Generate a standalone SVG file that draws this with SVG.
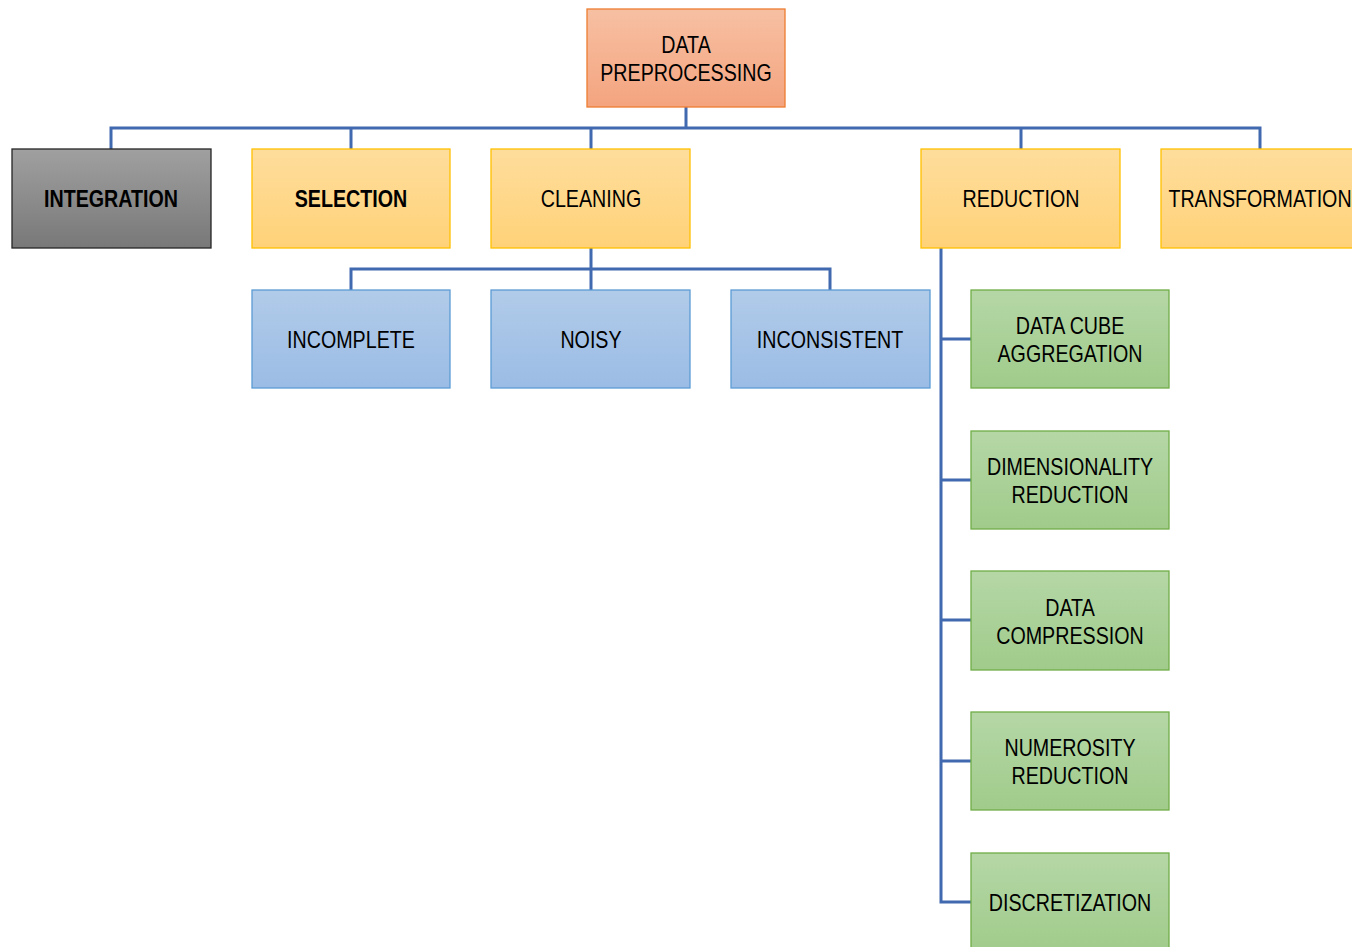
<svg xmlns="http://www.w3.org/2000/svg" width="1352" height="947" viewBox="0 0 1352 947">
<defs>
<linearGradient id="gOr" x1="0" y1="0" x2="0" y2="1"><stop offset="0" stop-color="#f7c0a3"/><stop offset="1" stop-color="#f4a47f"/></linearGradient>
<linearGradient id="gYe" x1="0" y1="0" x2="0" y2="1"><stop offset="0" stop-color="#fedd9c"/><stop offset="1" stop-color="#ffd278"/></linearGradient>
<linearGradient id="gBl" x1="0" y1="0" x2="0" y2="1"><stop offset="0" stop-color="#b1cbe9"/><stop offset="1" stop-color="#9bbce5"/></linearGradient>
<linearGradient id="gGr" x1="0" y1="0" x2="0" y2="1"><stop offset="0" stop-color="#b5d7a6"/><stop offset="1" stop-color="#a0cb8b"/></linearGradient>
<linearGradient id="gGy" x1="0" y1="0" x2="0" y2="1"><stop offset="0" stop-color="#a0a0a0"/><stop offset="1" stop-color="#787878"/></linearGradient>
</defs>
<style>
text{font-family:"Liberation Sans",Arial,sans-serif;font-size:24px;fill:#000;text-anchor:middle}
.b{font-weight:bold}
.or{fill:url(#gOr);stroke:#ed7d31;stroke-width:1.3}
.ye{fill:url(#gYe);stroke:#ffc000;stroke-width:1.3}
.bl{fill:url(#gBl);stroke:#5b9bd5;stroke-width:1.3}
.gr{fill:url(#gGr);stroke:#70ad47;stroke-width:1.3}
.gy{fill:url(#gGy);stroke:#262626;stroke-width:1.3}
.c{fill:none;stroke:#4169b0;stroke-width:3}
</style>
<g id="connectors">
<path class="c" d="M686 107V128M111 149V128H1260V149M351 128V149M591 128V149M1021 128V149"/>
<path class="c" d="M591 248V290M351 290V269H830V290"/>
<path class="c" d="M941 248V902H971M941 339H971M941 480H971M941 620H971M941 761H971"/>
</g>
<g id="n-root"><rect class="or" x="587" y="9" width="198" height="98"/><text transform="matrix(0.82 0 0 1 686 0)" y="53">DATA</text><text transform="matrix(0.82 0 0 1 686 0)" y="81">PREPROCESSING</text></g>
<g id="n-integration"><rect class="gy" x="12" y="149" width="199" height="99"/><text class="b" transform="matrix(0.82 0 0 1 111 0)" y="207">INTEGRATION</text></g>
<g id="n-selection"><rect class="ye" x="252" y="149" width="198" height="99"/><text class="b" transform="matrix(0.82 0 0 1 351 0)" y="207">SELECTION</text></g>
<g id="n-cleaning"><rect class="ye" x="491" y="149" width="199" height="99"/><text transform="matrix(0.82 0 0 1 591 0)" y="207">CLEANING</text></g>
<g id="n-reduction"><rect class="ye" x="921" y="149" width="199" height="99"/><text transform="matrix(0.82 0 0 1 1021 0)" y="207">REDUCTION</text></g>
<g id="n-transformation"><rect class="ye" x="1161" y="149" width="200" height="99"/><text transform="matrix(0.82 0 0 1 1260 0)" y="207">TRANSFORMATION</text></g>
<g id="n-incomplete"><rect class="bl" x="252" y="290" width="198" height="98"/><text transform="matrix(0.82 0 0 1 351 0)" y="348">INCOMPLETE</text></g>
<g id="n-noisy"><rect class="bl" x="491" y="290" width="199" height="98"/><text transform="matrix(0.82 0 0 1 591 0)" y="348">NOISY</text></g>
<g id="n-inconsistent"><rect class="bl" x="731" y="290" width="199" height="98"/><text transform="matrix(0.82 0 0 1 830 0)" y="348">INCONSISTENT</text></g>
<g id="n-datacube"><rect class="gr" x="971" y="290" width="198" height="98"/><text transform="matrix(0.82 0 0 1 1070 0)" y="334">DATA CUBE</text><text transform="matrix(0.82 0 0 1 1070 0)" y="362">AGGREGATION</text></g>
<g id="n-dimensionality"><rect class="gr" x="971" y="431" width="198" height="98"/><text transform="matrix(0.82 0 0 1 1070 0)" y="475">DIMENSIONALITY</text><text transform="matrix(0.82 0 0 1 1070 0)" y="503">REDUCTION</text></g>
<g id="n-compression"><rect class="gr" x="971" y="571" width="198" height="99"/><text transform="matrix(0.82 0 0 1 1070 0)" y="616">DATA</text><text transform="matrix(0.82 0 0 1 1070 0)" y="644">COMPRESSION</text></g>
<g id="n-numerosity"><rect class="gr" x="971" y="712" width="198" height="98"/><text transform="matrix(0.82 0 0 1 1070 0)" y="756">NUMEROSITY</text><text transform="matrix(0.82 0 0 1 1070 0)" y="784">REDUCTION</text></g>
<g id="n-discretization"><rect class="gr" x="971" y="853" width="198" height="100"/><text transform="matrix(0.82 0 0 1 1070 0)" y="911">DISCRETIZATION</text></g>
</svg>
